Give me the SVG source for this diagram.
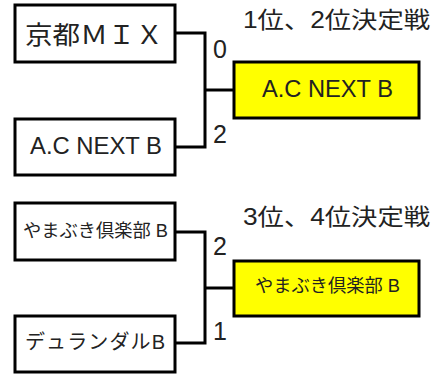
<svg xmlns="http://www.w3.org/2000/svg" width="447" height="374" viewBox="0 0 447 374">
<style>
.box{fill:#fff;stroke:#000;stroke-width:3}
.win{fill:#ffff00;stroke:#000;stroke-width:3}
.t{font-family:"Liberation Sans","Noto Sans CJK JP",sans-serif;fill:#222}
.s{font-family:"Liberation Sans","Noto Sans CJK JP",sans-serif;fill:#222;font-size:25px}
.c{fill:none;stroke:#000;stroke-width:3}
</style>
<rect width="447" height="374" fill="#fff"/>
<g id="title1"><text class="t" x="243" y="28" font-size="23" textLength="187" lengthAdjust="spacingAndGlyphs">1位、2位決定戦</text></g>
<g id="title2"><text class="t" x="243" y="225" font-size="23" textLength="187" lengthAdjust="spacingAndGlyphs">3位、4位決定戦</text></g>
<g id="connectors">
<path class="c" d="M175,33 H205 V147 H175"/>
<path class="c" d="M205,90 H234"/>
<path class="c" d="M175,232 H205 V343 H175"/>
<path class="c" d="M205,288 H234"/>
<text class="s" x="213" y="58">0</text>
<text class="s" x="213" y="143">2</text>
<text class="s" x="213" y="255">2</text>
<text class="s" x="213" y="340">1</text>
</g>
<g id="n1"><rect class="box" x="15" y="5" width="160" height="57"/><text class="t" x="25" y="44" font-size="25" textLength="138" lengthAdjust="spacingAndGlyphs">京都ＭＩＸ</text></g>
<g id="n2"><rect class="box" x="15" y="119" width="160" height="56"/><text class="t" x="30" y="154" font-size="24" textLength="132" lengthAdjust="spacingAndGlyphs">A.C NEXT B</text></g>
<g id="n3"><rect class="win" x="234" y="62" width="185" height="56"/><text class="t" x="262" y="97" font-size="24" textLength="131" lengthAdjust="spacingAndGlyphs">A.C NEXT B</text></g>
<g id="n4"><rect class="box" x="15" y="203" width="160" height="57"/><text class="t" x="23" y="237" font-size="18" textLength="145" lengthAdjust="spacingAndGlyphs">やまぶき倶楽部 B</text></g>
<g id="n5"><rect class="box" x="15" y="316" width="160" height="56"/><text class="t" x="25" y="349" font-size="20" textLength="140" lengthAdjust="spacing">デュランダルB</text></g>
<g id="n6"><rect class="win" x="234" y="261" width="185" height="55"/><text class="t" x="255" y="292" font-size="18" textLength="145" lengthAdjust="spacingAndGlyphs">やまぶき倶楽部 B</text></g>
</svg>
